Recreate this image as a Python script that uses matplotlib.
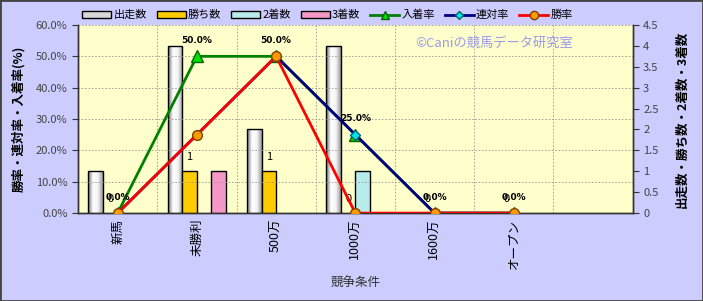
import numpy as np
import matplotlib
matplotlib.use("Agg")
import matplotlib.pyplot as plt
from matplotlib.colors import LinearSegmentedColormap
from matplotlib.lines import Line2D
from matplotlib.patches import Patch, Rectangle

plt.rcParams["font.family"] = ["Noto Sans CJK JP", "DejaVu Sans"]

# data
categories = ["新馬", "未勝利", "500万", "1000万", "1600万", "オープン"]
starts = [1, 4, 2, 4, 0, 0]        # 出走数
wins = [0, 1, 1, 0, 0, 0]          # 勝ち数
seconds = [0, 0, 0, 1, 0, 0]       # 2着数
thirds = [0, 1, 0, 0, 0, 0]        # 3着数
show_rate = [0, 50, 50, 25, 0, 0]  # 入着率
quin_rate = [0, 25, 50, 25, 0, 0]  # 連対率
win_rate = [0, 25, 50, 0, 0, 0]    # 勝率

BG = "#CCCCFF"
PLOT_BG = "#FFFFCC"

fig = plt.figure(figsize=(7.03, 3.01), dpi=100, facecolor=BG)
fig.patches.append(Rectangle((0, 0), 1, 1, transform=fig.transFigure,
                             fill=False, edgecolor="#444444", lw=2))

ax2 = fig.add_axes([0.111, 0.292, 0.789, 0.625])   # counts (right)
ax = ax2.twinx()                                     # rates (left)
ax.yaxis.tick_left()
ax.yaxis.set_label_position("left")
ax2.yaxis.tick_right()
ax2.yaxis.set_label_position("right")
ax.set_zorder(ax2.get_zorder() + 1)
ax.patch.set_visible(False)
ax2.set_facecolor(PLOT_BG)

x = np.arange(len(categories))
w = 0.184

grad = LinearSegmentedColormap.from_list(
    "g", ["#6e6e6e", "#ffffff", "#f4f4f4", "#9a9a9a"])
gimg = np.linspace(0, 1, 64).reshape(1, -1)

bars = ax2.bar(x - 1.5 * w, starts, w, color="none", edgecolor="black", lw=1, zorder=3)
for r in bars:
    if r.get_height() > 0:
        im = ax2.imshow(gimg, cmap=grad, aspect="auto", zorder=2.9,
                        extent=[r.get_x(), r.get_x() + r.get_width(), 0, r.get_height()])
        im.set_clip_path(r)
b_win = ax2.bar(x - 0.5 * w, wins, w, color="#FFCC00", edgecolor="black", lw=1, zorder=3)
b_2nd = ax2.bar(x + 0.5 * w, seconds, w, color="#B8ECEC", edgecolor="black", lw=1, zorder=3)
b_3rd = ax2.bar(x + 1.5 * w, thirds, w, color="#F598C8", edgecolor="black", lw=1, zorder=3)
for group in (bars, b_win, b_2nd, b_3rd):
    for r in group:
        if r.get_height() == 0:
            r.set_visible(False)

for i, v in enumerate(wins):
    ax2.annotate(str(v), (x[i] - 0.5 * w, v), xytext=(0, 10), textcoords="offset points",
                 ha="center", va="center", fontsize=8, color="black")

ax.plot(x, show_rate, color="#008000", lw=2, marker="^", ms=8,
        mfc="#00DD00", mec="#006600", zorder=4)
ax.plot(x, quin_rate, color="#000080", lw=2, marker="D", ms=5,
        mfc="#00E5EE", mec="#006666", zorder=5)
ax.plot(x, win_rate, color="#FF0000", lw=2, marker="o", ms=7,
        mfc="#FF9900", mec="#804000", zorder=6)

for i, v in enumerate(show_rate):
    ax.annotate(f"{v:.1f}%", (x[i], v), xytext=(0, 11.5), textcoords="offset points",
                ha="center", va="center", fontsize=6.5, fontweight="bold",
                family="DejaVu Sans", color="black", zorder=7)

ax.set_xlim(-0.5, 6.5)
ax2.set_xlim(-0.5, 6.5)
ax.set_ylim(0, 60)
ax2.set_ylim(0, 4.5)
ax.set_yticks(np.arange(0, 61, 10))
ax.set_yticklabels([f"{v:.1f}%" for v in np.arange(0, 61, 10)])
ax2.set_yticks(np.arange(0, 4.6, 0.5))
ax2.set_yticklabels(["0", "0.5", "1", "1.5", "2", "2.5", "3", "3.5", "4", "4.5"])

ax2.set_xticks(x)
ax2.set_xticklabels(categories, rotation=90, fontsize=9)
ax2.tick_params(axis="x", length=0, pad=4)
ax.tick_params(axis="x", bottom=False, labelbottom=False)
ax2.set_xticks(np.arange(0.5, 6.5, 1), minor=True)
ax2.tick_params(axis="x", which="minor", length=0)

ax.tick_params(axis="y", labelsize=8, labelcolor="#444444", length=4, color="#333333")
ax2.tick_params(axis="y", labelsize=8, labelcolor="#444444", length=4, color="#333333")

ax.grid(axis="y", color="#999999", lw=0.6, ls=(0, (2, 2)))
ax2.grid(axis="x", which="minor", color="#999999", lw=0.6, ls=(0, (2, 2)))
ax2.set_axisbelow(True)

for a in (ax, ax2):
    a.spines["top"].set_visible(False)
    for s in ("left", "right", "bottom"):
        a.spines[s].set_color("#333333")
        a.spines[s].set_linewidth(1)

ax.set_ylabel("勝率・連対率・入着率(%)", fontsize=9, fontweight="bold", labelpad=8)
ax2.set_ylabel("出走数・勝ち数・2着数・3着数", fontsize=9, fontweight="bold", labelpad=12)
ax2.set_xlabel("競争条件", fontsize=9, color="#333333", labelpad=6)

ax.text(0.75, 0.9, "©Caniの競馬データ研究室", transform=ax.transAxes,
        ha="center", va="center", fontsize=9.5, color="#9A9AEE", zorder=1)

handles = [
    Patch(facecolor="#d8d8d8", edgecolor="black", label="出走数"),
    Patch(facecolor="#FFCC00", edgecolor="black", label="勝ち数"),
    Patch(facecolor="#B8ECEC", edgecolor="black", label="2着数"),
    Patch(facecolor="#F598C8", edgecolor="black", label="3着数"),
    Line2D([], [], color="#008000", lw=2, marker="^", ms=6, mfc="#00DD00", mec="#006600", label="入着率"),
    Line2D([], [], color="#000080", lw=2, marker="D", ms=4, mfc="#00E5EE", mec="#006666", label="連対率"),
    Line2D([], [], color="#FF0000", lw=2, marker="o", ms=6, mfc="#FF9900", mec="#804000", label="勝率"),
]
fig.legend(handles=handles, loc="center", bbox_to_anchor=(0.466, 0.95), ncol=7,
           frameon=False, fontsize=8, handlelength=2.6, handleheight=0.6,
           handletextpad=0.2, columnspacing=0.9, borderpad=0)

fig.savefig("out.png", dpi=100, facecolor=BG)
